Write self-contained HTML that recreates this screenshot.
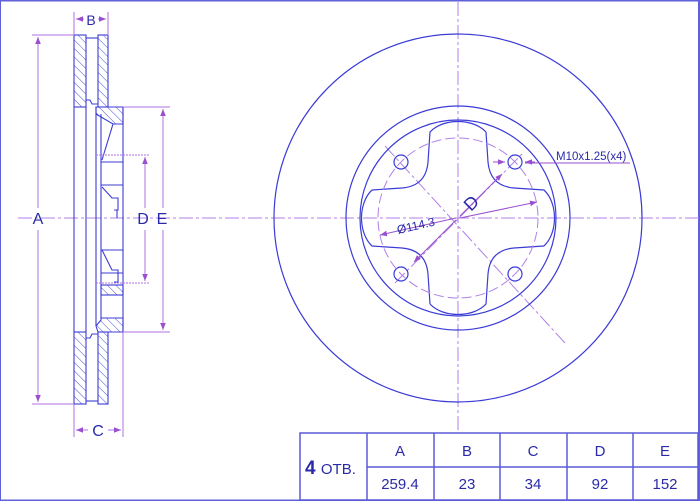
<!DOCTYPE html>
<html><head><meta charset="utf-8"><style>
html,body{margin:0;padding:0;background:#fff}
svg{display:block}
text{font-family:"Liberation Sans",sans-serif}
</style></head><body>
<svg width="700" height="501" viewBox="0 0 700 501" xmlns="http://www.w3.org/2000/svg">
<defs>
<pattern id="h" width="6" height="6" patternUnits="userSpaceOnUse" patternTransform="rotate(-45)">
<line x1="0" y1="0" x2="0" y2="6" stroke="#4a4ad8" stroke-width="1"/>
</pattern>
<marker id="ar" viewBox="0 0 10 10" refX="10" refY="5" markerWidth="7" markerHeight="7" orient="auto-start-reverse">
<path d="M0,1 L10,5 L0,9 z" fill="#9a4fd0"/>
</marker>
</defs>
<rect x="0" y="0.5" width="699" height="500" fill="none" stroke="#6060d8" stroke-width="2"/>

<!-- center lines -->
<g stroke="#b080e8" stroke-width="1" stroke-dasharray="14,3,3,3" fill="none">
<line x1="18" y1="218" x2="700" y2="218"/>
<line x1="458" y1="2" x2="458" y2="430"/>
<line x1="385" y1="146" x2="565" y2="343"/>
<line x1="395" y1="283" x2="523" y2="153"/>
</g>

<!-- side view -->
<g stroke="#3b3bd6" stroke-width="1.1" fill="none">
<rect x="74" y="35" width="12" height="72" fill="url(#h)"/>
<rect x="98" y="35" width="10" height="72" fill="url(#h)"/>
<rect x="74" y="332" width="12" height="72" fill="url(#h)"/>
<rect x="98" y="332" width="10" height="72" fill="url(#h)"/>
<line x1="86" y1="38" x2="98" y2="38"/>
<line x1="86" y1="401" x2="98" y2="401"/>
<path d="M86,100 L90,100 L92,104 L98,104"/>
<path d="M86,338 L90,338 L92,334 L98,334"/>
<line x1="74" y1="107" x2="74" y2="332"/>
<line x1="86" y1="107" x2="86" y2="332"/>
<path d="M96,107 L123,107 L123,124 L113,124 L96,114 Z" fill="url(#h)"/>
<path d="M101,318 L123,318 L123,332 L98,332 L96,326 L101,320 Z" fill="url(#h)"/>
<rect x="101" y="285" width="22" height="10" fill="url(#h)"/>
<line x1="96" y1="107" x2="96" y2="326"/>
<line x1="101" y1="114" x2="101" y2="318"/>
<line x1="123" y1="107" x2="123" y2="332"/>
<line x1="101" y1="162" x2="123" y2="162"/>
<line x1="101" y1="185" x2="123" y2="185"/>
<line x1="101" y1="250" x2="123" y2="250"/>
<line x1="101" y1="273" x2="123" y2="273"/>
<line x1="101" y1="295" x2="123" y2="295"/>
<path d="M113,124 L102,160"/>
<path d="M102,187 L112,198 L118,198 L118,210 L114,210"/>
<path d="M102,250 L112,270 L118,270 L118,282 L114,282"/>
<line x1="117" y1="210" x2="117" y2="218"/>
</g>

<!-- dimensions side view -->
<g stroke="#b070e0" stroke-width="1" fill="none">
<line x1="32" y1="35" x2="74" y2="35"/>
<line x1="32" y1="404" x2="74" y2="404"/>
<line x1="38" y1="37" x2="38" y2="208" marker-start="url(#ar)"/>
<line x1="38" y1="230" x2="38" y2="402" marker-end="url(#ar)"/>
<line x1="123" y1="107" x2="170" y2="107"/>
<line x1="123" y1="332" x2="170" y2="332"/>
<line x1="163" y1="109" x2="163" y2="208" marker-start="url(#ar)"/>
<line x1="163" y1="230" x2="163" y2="330" marker-end="url(#ar)"/>
<line x1="96" y1="155" x2="150" y2="155" stroke-dasharray="2,1"/>
<line x1="96" y1="283" x2="150" y2="283" stroke-dasharray="2,1"/>
<line x1="145" y1="157" x2="145" y2="208" marker-start="url(#ar)"/>
<line x1="145" y1="230" x2="145" y2="281" marker-end="url(#ar)"/>
<line x1="74" y1="12" x2="74" y2="35"/>
<line x1="108" y1="12" x2="108" y2="35"/>
<line x1="76" y1="19" x2="84" y2="19" marker-start="url(#ar)"/>
<line x1="98" y1="19" x2="106" y2="19" marker-end="url(#ar)"/>
<line x1="74" y1="404" x2="74" y2="437"/>
<line x1="123" y1="332" x2="123" y2="437"/>
<line x1="76" y1="430" x2="88" y2="430" marker-start="url(#ar)"/>
<line x1="108" y1="430" x2="121" y2="430" marker-end="url(#ar)"/>
</g>
<g fill="#2a2aa8" font-size="16">
<text x="91" y="25" text-anchor="middle" font-size="14">B</text>
<text x="98" y="436" text-anchor="middle">C</text>
<text x="38" y="224" text-anchor="middle">A</text>
<text x="143" y="224" text-anchor="middle">D</text>
<text x="162" y="224" text-anchor="middle">E</text>
</g>

<!-- front view -->
<g stroke="#3b3bd6" stroke-width="1.2" fill="none">
<circle cx="458" cy="218" r="184"/>
<circle cx="458" cy="218" r="112"/>
<circle cx="458" cy="218" r="98"/>
<g transform="translate(458,218)">
<path id="q" d="M28,-86 L30,-56 Q32,-32 56,-30 L86,-28 C100,-15 100,15 86,28"/>
<use href="#q" transform="rotate(90)"/>
<use href="#q" transform="rotate(180)"/>
<use href="#q" transform="rotate(270)"/>
<circle cx="-57" cy="-56" r="7"/>
<circle cx="57" cy="-56" r="7"/>
<circle cx="-57" cy="56" r="7"/>
<circle cx="57" cy="56" r="7"/>
</g>
</g>
<circle cx="458" cy="218" r="80" fill="none" stroke="#b080e8" stroke-width="1" stroke-dasharray="10,4"/>
<g stroke="#9a4fd0" stroke-width="1" fill="none">
<line x1="456" y1="220" x2="414" y2="262" marker-end="url(#ar)"/>
<line x1="460" y1="216" x2="502" y2="174" marker-end="url(#ar)"/>
<line x1="456" y1="218" x2="380" y2="235" marker-end="url(#ar)"/>
<line x1="460" y1="218" x2="537" y2="202" marker-end="url(#ar)"/>
<line x1="493" y1="162" x2="505" y2="162" marker-end="url(#ar)"/>
<line x1="535" y1="162" x2="525" y2="162" marker-end="url(#ar)"/>
<line x1="525" y1="163" x2="630" y2="163"/>
</g>
<text x="556" y="160" fill="#2a2aa8" font-size="11.5">M10x1.25(x4)</text>
<text x="0" y="0" fill="#2a2aa8" font-size="12" transform="translate(398,234) rotate(-13)">Ø114.3</text>
<text x="0" y="0" fill="#2a2aa8" font-size="18" transform="translate(471,212) rotate(-45)">D</text>

<!-- table -->
<g stroke="#5a5ad8" stroke-width="1.5" fill="none">
<rect x="300" y="433" width="398" height="67"/>
<line x1="367" y1="433" x2="367" y2="500"/>
<line x1="434" y1="433" x2="434" y2="500"/>
<line x1="500" y1="433" x2="500" y2="500"/>
<line x1="567" y1="433" x2="567" y2="500"/>
<line x1="633" y1="433" x2="633" y2="500"/>
<line x1="367" y1="467" x2="698" y2="467"/>
</g>
<g fill="#2a2aa8" font-size="15" text-anchor="middle">
<text x="400" y="456">A</text>
<text x="467" y="456">B</text>
<text x="533" y="456">C</text>
<text x="600" y="456">D</text>
<text x="665" y="456">E</text>
<text x="400" y="489">259.4</text>
<text x="467" y="489">23</text>
<text x="533" y="489">34</text>
<text x="600" y="489">92</text>
<text x="665" y="489">152</text>
</g>
<text x="305" y="474" fill="#2a2aa8" font-size="19" font-weight="bold">4 <tspan font-size="15" font-weight="normal">ОТВ.</tspan></text>
</svg>
</body></html>
